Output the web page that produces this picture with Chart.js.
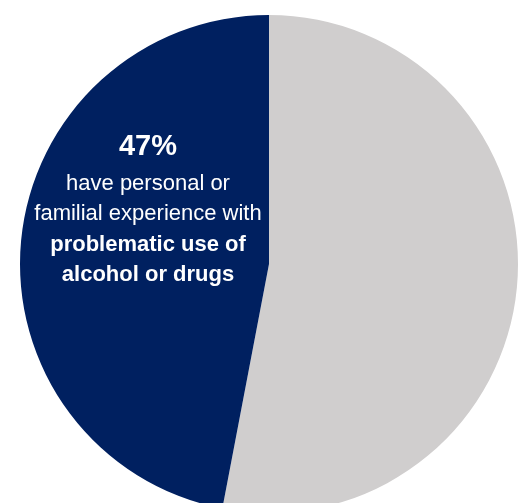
<!DOCTYPE html>
<html>
<head>
<meta charset="utf-8">
<style>
  html, body { margin: 0; padding: 0; background: #fff; overflow: hidden; }
  #wrap { width: 524px; height: 540px; }
</style>
<script src="https://cdn.jsdelivr.net/npm/chart.js@4"></script>
</head>
<body>
<div id="wrap"><canvas id="pieChart"></canvas></div>
<script>
const categories = ['Other', 'Personal or familial experience with problematic use'];
const shares = [53, 47];
const sliceColors = ['#D0CECE', '#002060'];

// callout text inside the dark slice: [text, bold]
const calloutLines = [
    ['47%', true],
    ['have personal or', false],
    ['familial experience with', false],
    ['problematic use of', true],
    ['alcohol or drugs', true]
];

const calloutPlugin = {
    id: 'callout',
    afterDatasetsDraw(chart) {
        const ctx = chart.ctx;
        const x = 148;
        const baselines = [155, 190, 220, 251, 281];
        ctx.save();
        ctx.fillStyle = '#ffffff';
        ctx.textAlign = 'center';
        ctx.textBaseline = 'alphabetic';
        calloutLines.forEach((line, i) => {
            const size = i === 0 ? 29 : 22;
            ctx.font = (line[1] ? 'bold ' : '') + size + 'px "Liberation Sans", Arial, sans-serif';
            ctx.fillText(line[0], x, baselines[i]);
        });
        ctx.restore();
    }
};

const config = {
    type: 'pie',
    data: {
        labels: categories,
        datasets: [{
            data: shares,
            backgroundColor: sliceColors,
            borderWidth: 0
        }]
    },
    options: {
        responsive: true,
        maintainAspectRatio: false,
        animation: false,
        layout: {
            padding: { top: 15, left: 20, right: 6, bottom: 27 }
        },
        plugins: {
            legend: { display: false },
            tooltip: { enabled: false }
        }
    },
    plugins: [calloutPlugin]
};

const pieChart = new Chart(document.querySelector('#pieChart'), config);
</script>
</body>
</html>
